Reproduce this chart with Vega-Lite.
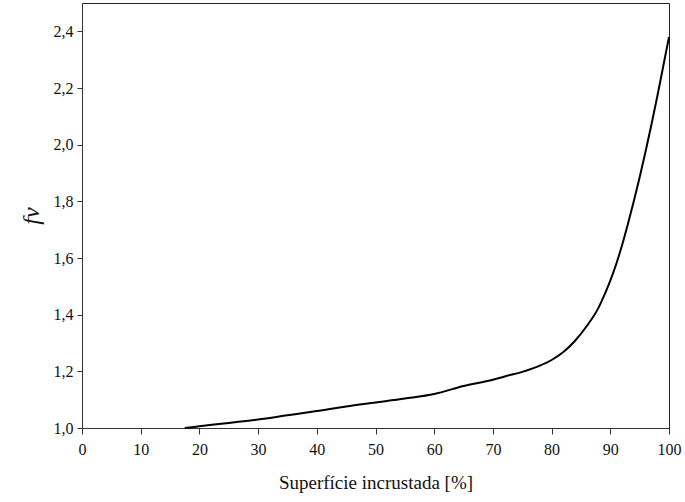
{
  "$schema": "https://vega.github.io/schema/vega-lite/v6.json",
  "width": 587,
  "height": 425,
  "autosize": "none",
  "padding": {"left": 82, "top": 3, "right": 16, "bottom": 74},
  "background": "white",
  "config": {
    "view": {"stroke": "#222222", "strokeWidth": 1},
    "font": "Liberation Serif",
    "axis": {
      "grid": false,
      "labelFlush": false,
      "labelOverlap": false,
      "domainColor": "#333333",
      "tickColor": "#333333",
      "labelColor": "#111111",
      "titleColor": "#111111",
      "labelFont": "Liberation Serif",
      "titleFont": "Liberation Serif",
      "titleFontWeight": "normal",
      "tickSize": 6
    }
  },
  "data": {
    "values": [
      {"x": 17.5, "y": 1.0},
      {"x": 20, "y": 1.006},
      {"x": 25, "y": 1.018},
      {"x": 30, "y": 1.03},
      {"x": 35, "y": 1.045},
      {"x": 40, "y": 1.06},
      {"x": 45, "y": 1.076},
      {"x": 50, "y": 1.09},
      {"x": 55, "y": 1.104},
      {"x": 60, "y": 1.12},
      {"x": 65, "y": 1.148},
      {"x": 70, "y": 1.17},
      {"x": 72, "y": 1.182},
      {"x": 75, "y": 1.198},
      {"x": 78, "y": 1.22},
      {"x": 80, "y": 1.24},
      {"x": 82, "y": 1.268},
      {"x": 84, "y": 1.308},
      {"x": 86, "y": 1.36},
      {"x": 88, "y": 1.425},
      {"x": 89, "y": 1.47},
      {"x": 90, "y": 1.52},
      {"x": 91, "y": 1.578},
      {"x": 92, "y": 1.645},
      {"x": 93, "y": 1.72},
      {"x": 94, "y": 1.8},
      {"x": 95, "y": 1.885},
      {"x": 96, "y": 1.975},
      {"x": 97, "y": 2.07},
      {"x": 98, "y": 2.17},
      {"x": 99, "y": 2.275},
      {"x": 100, "y": 2.38}
    ]
  },
  "mark": {"type": "line", "color": "black", "strokeWidth": 2, "interpolate": "monotone"},
  "encoding": {
    "x": {
      "field": "x",
      "type": "quantitative",
      "scale": {"domain": [0, 100], "nice": false},
      "axis": {
        "values": [0, 10, 20, 30, 40, 50, 60, 70, 80, 90, 100],
        "title": "Superfície incrustada [%]",
        "titleFontSize": 19,
        "titlePadding": 16,
        "labelFontSize": 16,
        "labelPadding": 7,
        "labelFlush": false
      }
    },
    "y": {
      "field": "y",
      "type": "quantitative",
      "scale": {"domain": [1, 2.5], "nice": false, "zero": false},
      "axis": {
        "values": [1.0, 1.2, 1.4, 1.6, 1.8, 2.0, 2.2, 2.4],
        "labelExpr": "replace(format(datum.value, '.1f'), '.', ',')",
        "title": "fv",
        "titleFontSize": 24,
        "titleFontStyle": "italic",
        "titlePadding": 10,
        "labelFontSize": 16,
        "labelPadding": 4,
        "tickSize": 5,
        "labelFlush": false
      }
    }
  }
}
